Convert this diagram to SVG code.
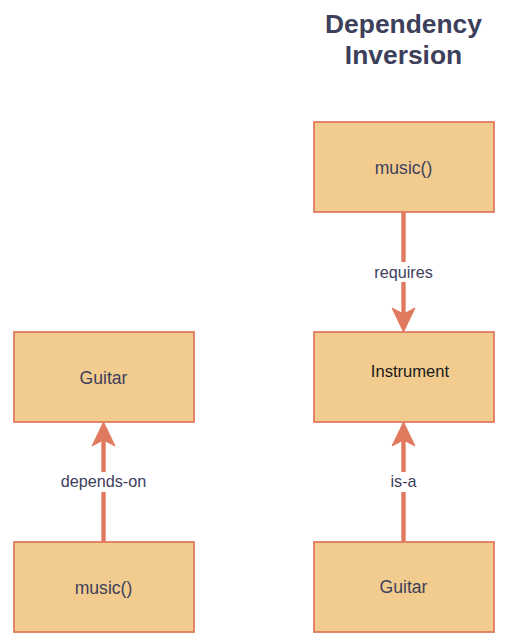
<svg xmlns="http://www.w3.org/2000/svg" width="510" height="642" viewBox="0 0 510 642">
<style>
.box{fill:#F2CC8F;stroke:#E07A5F;stroke-width:1.8}
.t{font-family:"Liberation Sans",Arial,sans-serif;font-size:17.6px;fill:#3D405B;text-anchor:middle}
.lbl{font-family:"Liberation Sans",Arial,sans-serif;font-size:16.2px;fill:#3D405B;text-anchor:middle}
.title{font-family:"Liberation Sans",Arial,sans-serif;font-size:26.4px;font-weight:bold;fill:#3D405B;text-anchor:middle}
.edge{stroke:#E07A5F;stroke-width:4.4;fill:none}
.head{fill:#E07A5F;stroke:#E07A5F;stroke-width:1}
</style>
<rect width="510" height="642" fill="#ffffff"/>
<g id="title">
<text class="title" x="403.5" y="32.5">Dependency</text>
<text class="title" x="403.5" y="64">Inversion</text>
</g>
<g id="connectors">
<g id="edge-requires">
<line class="edge" x1="403.5" y1="212" x2="403.5" y2="318"/>
<path class="head" d="M403.5,332 L392,308 L403.5,314 L415,308 Z"/>
<rect x="372" y="262" width="63" height="20" fill="#ffffff"/>
<text class="lbl" x="403.5" y="277.6">requires</text>
</g>
<g id="edge-isa">
<line class="edge" x1="403.5" y1="542" x2="403.5" y2="436"/>
<path class="head" d="M403.5,422 L392,446 L403.5,440 L415,446 Z"/>
<rect x="386" y="472" width="35" height="20" fill="#ffffff"/>
<text class="lbl" x="403.5" y="487">is-a</text>
</g>
<g id="edge-depends">
<line class="edge" x1="103.5" y1="542" x2="103.5" y2="436"/>
<path class="head" d="M103.5,422 L92,446 L103.5,440 L115,446 Z"/>
<rect x="58" y="472" width="91" height="20" fill="#ffffff"/>
<text class="lbl" x="103.5" y="487">depends-on</text>
</g>
</g>
<g id="node-music-right">
<rect class="box" x="314" y="122" width="180" height="90"/>
<text class="t" x="403.5" y="174">music()</text>
</g>
<g id="node-instrument">
<rect class="box" x="314" y="332" width="180" height="90"/>
<text class="t" x="410" y="377" style="font-size:16.6px;fill:#1a1a1a">Instrument</text>
</g>
<g id="node-guitar-right">
<rect class="box" x="314" y="542" width="180" height="90"/>
<text class="t" x="403.5" y="593">Guitar</text>
</g>
<g id="node-guitar-left">
<rect class="box" x="14" y="332" width="180" height="90"/>
<text class="t" x="103.5" y="383.5">Guitar</text>
</g>
<g id="node-music-left">
<rect class="box" x="14" y="542" width="180" height="90"/>
<text class="t" x="103.5" y="593.5">music()</text>
</g>
</svg>
